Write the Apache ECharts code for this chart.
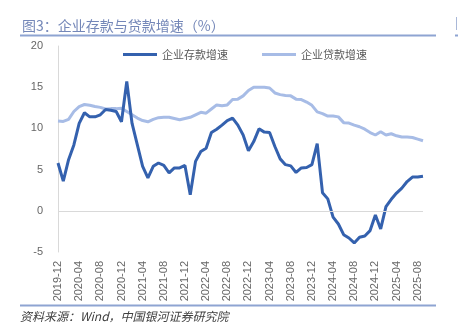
<!DOCTYPE html>
<html>
<head>
<meta charset="utf-8">
<script src="https://cdn.jsdelivr.net/npm/echarts@6/dist/echarts.min.js"></script>
<style>
html,body{margin:0;padding:0;background:#fff;}
#c{width:458px;height:328px;}
</style>
</head>
<body>
<div id="c"></div>
<script>
var titleText = '图3：企业存款与贷款增速（%）';
var sourceText = '资料来源：Wind，中国银河证券研究院';
var seriesNames = ['企业存款增速', '企业贷款增速'];
var yTicks = [-5, 0, 5, 10, 15, 20];

var months = [];
(function(){
  var y = 2019, m = 12;
  for (var i = 0; i < 70; i++) {
    months.push(y + '-' + (m < 10 ? '0' + m : '' + m));
    m++; if (m > 12) { m = 1; y++; }
  }
})();

var depositGrowth = [
  5.8, 3.6, 6.2, 8.0, 10.6, 11.9, 11.4, 11.4, 11.65, 12.3, 12.2, 12.05,
  10.8, 15.7, 10.6, 8.0, 5.4, 4.0, 5.4, 5.8, 5.5, 4.6, 5.2, 5.2,
  5.5, 1.95, 6.0, 7.2, 7.6, 9.5, 9.9, 10.4, 10.95, 11.25, 10.4, 9.2,
  7.3, 8.4, 9.95, 9.55, 9.5, 7.8, 6.3, 5.6, 5.45, 4.65, 5.2, 5.25,
  5.6, 8.15, 2.2, 1.45, -0.77, -1.6, -2.9, -3.3, -3.9, -3.2, -3.05, -2.4,
  -0.5, -2.2, 0.5, 1.4, 2.15, 2.75, 3.55, 4.1, 4.1, 4.2
];
var loanGrowth = [
  10.9, 10.85, 11.1, 12.05, 12.65, 12.9, 12.8, 12.65, 12.55, 12.35, 12.4, 12.4,
  12.45, 12.05, 11.65, 11.25, 10.95, 10.8, 11.1, 11.3, 11.35, 11.35, 11.2, 11.05,
  11.2, 11.35, 11.65, 11.95, 11.85, 12.35, 12.85, 12.75, 12.85, 13.5, 13.55, 13.95,
  14.6, 15.0, 15.0, 15.0, 14.9, 14.3, 14.1, 14.0, 13.95, 13.55, 13.5, 13.2,
  12.8, 12.0, 11.8, 11.5, 11.5, 11.4, 10.7, 10.65, 10.4, 10.2, 9.9, 9.5,
  9.2, 9.6, 9.2, 9.35, 9.1, 8.95, 8.95, 8.9, 8.7, 8.5
];

var cjk = '"Noto Sans CJK SC", "Noto Sans", sans-serif';
var chart = echarts.init(document.getElementById('c'), null, {renderer: 'canvas'});
chart.setOption({
  animation: false,
  backgroundColor: '#ffffff',
  title: {
    text: titleText,
    left: 17, top: 14,
    textStyle: {fontFamily: cjk, fontSize: 14, fontWeight: 'normal', color: '#7487b8'}
  },
  graphic: [
    {type: 'line', shape: {x1: 20, y1: 35.5, x2: 436, y2: 35.5}, style: {stroke: '#8ea4d2', lineWidth: 2}},
    {type: 'line', shape: {x1: 20, y1: 305.5, x2: 436, y2: 305.5}, style: {stroke: '#8ea4d2', lineWidth: 2}},
    {type: 'line', shape: {x1: 456.5, y1: 17, x2: 456.5, y2: 30}, style: {stroke: '#a9b8d8', lineWidth: 1}},
    {type: 'line', shape: {x1: 455, y1: 35.5, x2: 458, y2: 35.5}, style: {stroke: '#8ea4d2', lineWidth: 2}},
    {type: 'text', left: 20, top: 310, style: {text: sourceText, font: 'italic 12px "Noto Sans CJK SC", serif', fill: '#404040'}}
  ],
  legend: {
    top: 44, left: 118,
    itemWidth: 34, itemHeight: 3, itemGap: 34,
    icon: 'rect',
    textStyle: {fontFamily: cjk, fontSize: 11, color: '#595959'},
    data: seriesNames
  },
  grid: {left: 58, right: 35, top: 46, bottom: 76, containLabel: false},
  xAxis: {
    type: 'category',
    data: months,
    boundaryGap: false,
    axisLine: {show: false},
    axisTick: {show: false},
    axisLabel: {
      interval: 3, rotate: 90, margin: 9,
      fontFamily: 'Liberation Sans, sans-serif', fontSize: 11, color: '#666666'
    },
    splitLine: {show: false}
  },
  yAxis: {
    type: 'value',
    min: yTicks[0], max: yTicks[yTicks.length - 1], interval: 5,
    axisLine: {show: true, lineStyle: {color: '#d9d9d9', width: 1}},
    axisTick: {show: false},
    axisLabel: {margin: 15, fontFamily: 'Liberation Sans, sans-serif', fontSize: 11, color: '#666666'},
    splitLine: {show: false}
  },
  series: [
    {
      name: seriesNames[0], type: 'line', data: depositGrowth,
      showSymbol: false, symbol: 'none',
      lineStyle: {color: '#3461ae', width: 3},
      itemStyle: {color: '#3461ae'},
      z: 3,
      markLine: {
        silent: true, symbol: 'none', label: {show: false},
        lineStyle: {color: '#d9d9d9', width: 1, type: 'solid'},
        data: [{yAxis: 0}]
      }
    },
    {
      name: seriesNames[1], type: 'line', data: loanGrowth,
      showSymbol: false, symbol: 'none',
      lineStyle: {color: '#a7bce6', width: 3},
      itemStyle: {color: '#a7bce6'},
      z: 2
    }
  ]
});
</script>
</body>
</html>
